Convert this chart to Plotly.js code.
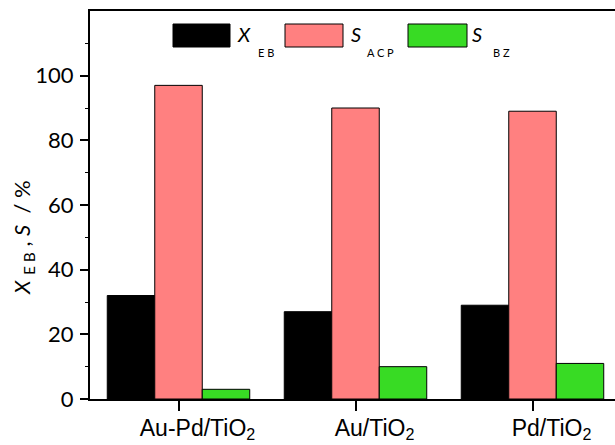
<!DOCTYPE html>
<html>
<head>
<meta charset="utf-8">
<script src="https://cdn.plot.ly/plotly-3.0.1.min.js"></script>
<style>
html,body{margin:0;padding:0;overflow:hidden;background:#fff;}
#chart{width:640px;height:445px;}
</style>
</head>
<body>
<div id="chart"></div>
<script>
// ---- data ----
const catalysts = ['Au-Pd/TiO<sub>2</sub>', 'Au/TiO<sub>2</sub>', 'Pd/TiO<sub>2</sub>'];
const X_EB  = [32, 27, 29];
const S_ACP = [97, 90, 89];
const S_BZ  = [3, 10, 11];
const yTicks = [0, 20, 40, 60, 80, 100];
const yMinor = [10, 30, 50, 70, 90, 110];

// ---- layout geometry ----
const W = 640, H = 445;
const M = {l: 90, r: 19, t: 11, b: 46};
const PW = W - M.l - M.r, PH = H - M.t - M.b;
const px = x => (x - M.l) / PW;            // page px -> paper x
const py = y => (H - M.b - y) / PH;        // page px -> paper y

const colors = ['#000000', '#FF8080', '#38DB24'];
const names = ['X<sub>EB</sub>', 'S<sub>ACP</sub>', 'S<sub>BZ</sub>'];
const series = [X_EB, S_ACP, S_BZ];

const traces = series.map((vals, i) => ({
  type: 'bar',
  x: catalysts,
  y: vals,
  name: names[i],
  marker: {color: colors[i], line: {color: '#000', width: 1}},
  hoverinfo: 'skip'
}));

// custom legend (wide swatches like the original)
const legendItems = [
  {x0: 173, x1: 230, main: 'X', mx: 244, sub: 'E B', sx: 266},
  {x0: 285, x1: 343, main: 'S', mx: 356, sub: 'A C P', sx: 381},
  {x0: 408, x1: 467, main: 'S', mx: 477, sub: 'B Z', sx: 501}
];
const shapes = legendItems.map((it, i) => ({
  type: 'rect', xref: 'paper', yref: 'paper',
  x0: px(it.x0), x1: px(it.x1), y0: py(47), y1: py(24),
  fillcolor: colors[i], line: {color: '#000', width: 1}
}));
const annotations = [];
legendItems.forEach(it => {
  annotations.push({
    xref: 'paper', yref: 'paper', x: px(it.mx), y: py(34),
    xanchor: 'center', yanchor: 'middle', showarrow: false,
    text: '<i>' + it.main + '</i>',
    font: {family: 'Lato, sans-serif', size: 20, color: '#000'}
  });
  annotations.push({
    xref: 'paper', yref: 'paper', x: px(it.sx), y: py(53),
    xanchor: 'center', yanchor: 'middle', showarrow: false,
    text: it.sub,
    font: {family: 'Lato, sans-serif', size: 11, color: '#000'}
  });
});
// y-axis title
annotations.push({
  xref: 'paper', yref: 'paper', x: px(23), y: py(238),
  xanchor: 'center', yanchor: 'middle', showarrow: false, textangle: -90,
  text: '<i>X</i> <sub>E B</sub> , <i>S</i>  / %',
  font: {family: 'Lato, sans-serif', size: 22, color: '#000'}
});

const layout = {
  width: W, height: H,
  margin: M,
  paper_bgcolor: '#fff', plot_bgcolor: '#fff',
  showlegend: false,
  barmode: 'group',
  bargap: 0.195,
  bargroupgap: 0,
  xaxis: {
    type: 'category',
    range: [-0.5, 2.5],
    showline: true, linewidth: 2, linecolor: '#000', mirror: true,
    ticks: 'outside', ticklen: 10, tickwidth: 2, tickcolor: '#000',
    ticklabelshift: 19, ticklabelstandoff: -3,
    showgrid: false, zeroline: false,
    tickfont: {family: 'Liberation Sans, Arial, sans-serif', size: 23, color: '#000'},
    fixedrange: true
  },
  yaxis: {
    range: [0, 120],
    tickvals: yTicks,
    ticktext: yTicks.map(String),
    showline: true, linewidth: 2, linecolor: '#000',
    ticks: 'outside', ticklen: 8, tickwidth: 2, tickcolor: '#000',
    ticklabelstandoff: 2,
    minor: {tickvals: yMinor, ticks: 'outside', ticklen: 3, tickwidth: 1, tickcolor: '#000', showgrid: false},
    showgrid: false, zeroline: false,
    tickfont: {family: 'Lato, sans-serif', size: 22, color: '#000'},
    fixedrange: true
  },
  shapes: shapes,
  annotations: annotations
};

Plotly.newPlot('chart', traces, layout, {displayModeBar: false, staticPlot: true});
</script>
</body>
</html>
